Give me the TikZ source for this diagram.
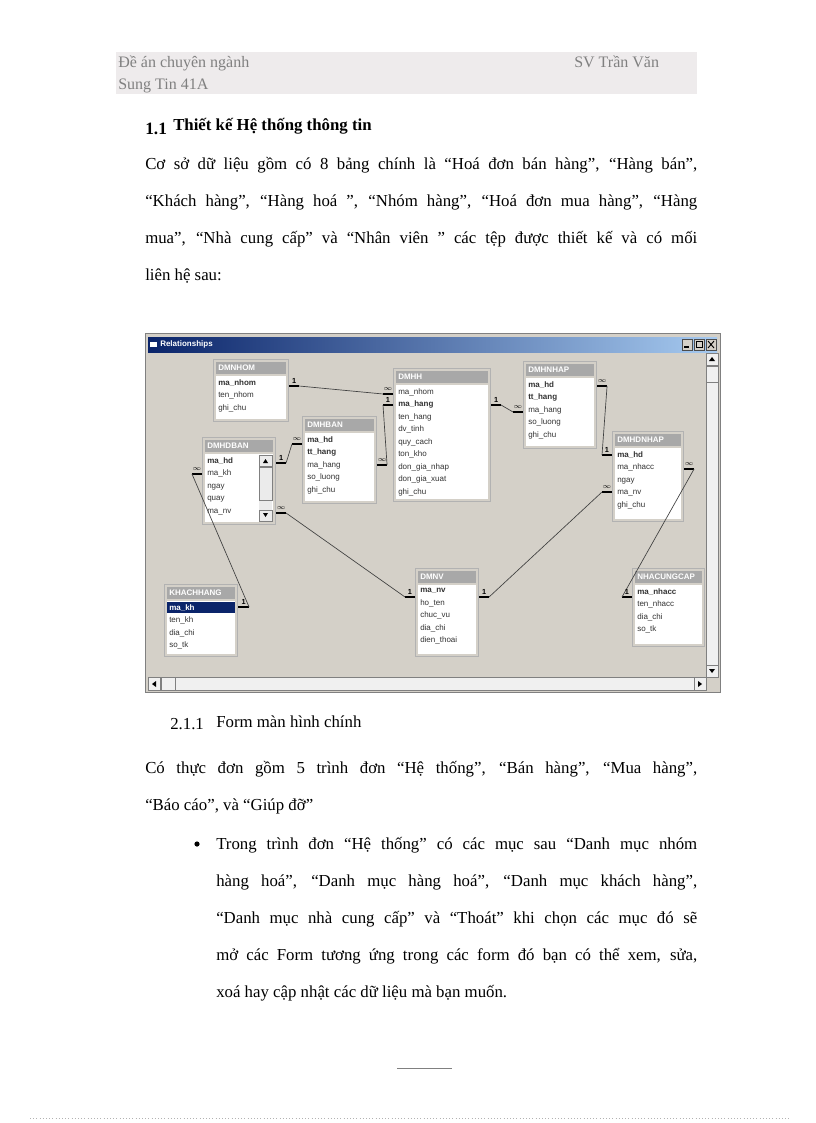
\documentclass[tikz,border=0pt]{standalone}
\usepackage{fontspec}
\setmainfont{Liberation Serif}
\newfontfamily\ui{Liberation Sans}
\usetikzlibrary{calc}
\definecolor{wingray}{HTML}{D4D0C8}
\definecolor{tgray}{HTML}{A8A8A8}
\definecolor{hdr}{HTML}{EEEBEC}
\definecolor{navy}{RGB}{10,36,106}
\definecolor{lblue}{RGB}{166,202,240}
\tikzset{
 stub/.style={line width=1.6pt},
 conn/.style={line width=0.5pt,black!75},
 card/.style={font=\ui\fontsize{5.5}{5.5}\selectfont\bfseries,inner sep=0pt},
 para/.style={anchor=north west,inner sep=0pt,align=justify,font=\fontsize{12.6}{27.75}\selectfont},
 tframe/.style={draw=gray!60,line width=0.8pt,fill=wingray,anchor=north west,inner sep=0pt},
 fld/.style={anchor=north west,inner sep=0pt,align=left,font=\ui\fontsize{6}{9.4}\selectfont,text=black!80},
}
\newcommand\dbt[7]{%
 \pgfmathsetmacro\tw{(#4-#2)*0.75}\pgfmathsetmacro\th{(#5-#3)*0.75}%
 \node[tframe,minimum width=\tw pt,minimum height=\th pt] (#1) at (#2,#3) {};
 \fill[tgray] ($(#1.north west)+(3,3)$) rectangle ($(#1.north east)+(-3,15)$);
 \node[anchor=west,inner sep=0pt,text=white,font=\ui\fontsize{6}{6}\selectfont\bfseries] at ($(#1.north west)+(5,9)$) {#6};
 \fill[white] ($(#1.north west)+(3,17)$) rectangle ($(#1.south east)+(-3,-3)$);
 \node[fld] at ($(#1.north west)+(5,20)$) {#7};
}
\newcommand\rel[6]{%
 \draw[stub] (#1) -- ++(#2,0) coordinate (ra);
 \draw[stub] (#4) -- ++(#5,0) coordinate (rb);
 \draw[conn] (ra) -- (rb);
 \path (#1) ++(#2/2,-5) node[card] {#3};
 \path (#4) ++(#5/2,-5) node[card] {#6};
}
\begin{document}
\begin{tikzpicture}[x=0.75pt,y=-0.75pt]
\useasboundingbox[fill=white] (0,0) rectangle (816,1123);
% header
\fill[hdr] (116,52) rectangle (697,94);
\node[anchor=base west,inner sep=0pt,text=gray,font=\fontsize{12}{12}\selectfont] (h1) at (118,68) {Đề án chuyên ngành};
\node[anchor=base west,inner sep=0pt,text=gray,font=\fontsize{12}{12}\selectfont] (h2) at (574,68) {SV Trần Văn};
\node[anchor=base west,inner sep=0pt,text=gray,font=\fontsize{12}{12}\selectfont] (h3) at (118,90) {Sung Tin 41A};
% heading
\node[anchor=base west,inner sep=0pt,font=\fontsize{13}{13}\selectfont\bfseries] (n11) at (145,135) {1.1};
\node[anchor=base west,inner sep=0pt,font=\fontsize{12.6}{13}\selectfont\bfseries] (t11) at (173,131) {Thiết kế Hệ thống thông tin};
\node[para,text width=414pt] (p1) at (145,157) {Cơ sở dữ liệu gồm có 8 bảng chính là “Hoá đơn bán hàng”, “Hàng bán”,\linebreak “Khách hàng”, “Hàng hoá ”, “Nhóm hàng”, “Hoá đơn mua hàng”, “Hàng\linebreak mua”, “Nhà cung cấp” và “Nhân viên ” các tệp được thiết kế và có mối\linebreak liên hệ sau:};
% window
\fill[wingray] (145,333) rectangle (720,692);
\draw[gray,line width=0.6pt] (145,333) rectangle (720,692);
\fill[left color=navy,right color=lblue] (148,337) rectangle (717,352);
\node[anchor=west,inner sep=0pt,text=white,font=\ui\fontsize{6}{6}\selectfont\bfseries] (wt) at (160,344.5) {Relationships};
\fill[white] (150,342) rectangle (157,347);
\foreach \bx in {682,694,706}{\fill[wingray] (\bx,339) rectangle ++(10,11); \draw[black!70,line width=0.3pt] (\bx,339) rectangle ++(10,11);}
\draw[line width=0.8pt] (684,347) -- (689,347);
\draw[line width=0.5pt] (696,341) rectangle (702,347);
\draw[line width=0.7pt] (708,341) -- (714,348) (714,341) -- (708,348);
\fill[black!6] (706,353) rectangle (718,677);
\fill[black!6] (148,677) rectangle (706,690);
\draw[black!50,line width=0.3pt] (706,353) rectangle (718,677) (148,677) rectangle (706,690);
\draw[black!50,line width=0.3pt] (706,353) rectangle (718,365) (706,665) rectangle (718,677) (148,677) rectangle (160,690) (694,677) rectangle (706,690) (706,366) rectangle (718,382) (161,677) rectangle (175,690);
\fill[black] (709,361) -- (715,361) -- (712,357) -- cycle;
\fill[black] (709,669) -- (715,669) -- (712,673) -- cycle;
\fill[black] (156,681) -- (156,687) -- (152,684) -- cycle;
\fill[black] (698,681) -- (698,687) -- (702,684) -- cycle;
% tables
\dbt{dmnhom}{213}{359}{288}{421}{DMNHOM}{\textbf{ma\_nhom}\\ten\_nhom\\ghi\_chu}
\dbt{dmhh}{393}{368}{490}{501}{DMHH}{ma\_nhom\\\textbf{ma\_hang}\\ten\_hang\\dv\_tinh\\quy\_cach\\ton\_kho\\don\_gia\_nhap\\don\_gia\_xuat\\ghi\_chu}
\dbt{dmhban}{302}{416}{376}{503}{DMHBAN}{\textbf{ma\_hd}\\\textbf{tt\_hang}\\ma\_hang\\so\_luong\\ghi\_chu}
\dbt{dmhdban}{202}{437}{275}{524}{DMHDBAN}{\textbf{ma\_hd}\\ma\_kh\\ngay\\quay\\ma\_nv}
\dbt{dmhnhap}{523}{361}{596}{448}{DMHNHAP}{\textbf{ma\_hd}\\\textbf{tt\_hang}\\ma\_hang\\so\_luong\\ghi\_chu}
\dbt{dmhdnhap}{612}{431}{683}{521}{DMHDNHAP}{\textbf{ma\_hd}\\ma\_nhacc\\ngay\\ma\_nv\\ghi\_chu}
\dbt{khachhang}{164}{584}{237}{656}{KHACHHANG}{\phantom{ma\_kh}\\ten\_kh\\dia\_chi\\so\_tk}
\fill[navy] ($(khachhang.north west)+(3,18)$) rectangle ($(khachhang.north east)+(-3,29)$);
\node[fld,text=white] (mkh) at ($(khachhang.north west)+(5,20)$) {\textbf{ma\_kh}};
\dbt{dmnv}{415}{568}{478}{656}{DMNV}{\textbf{ma\_nv}\\ho\_ten\\chuc\_vu\\dia\_chi\\dien\_thoai}
\dbt{ncc}{632}{568}{704}{646}{NHACUNGCAP}{\textbf{ma\_nhacc}\\ten\_nhacc\\dia\_chi\\so\_tk}
% scrollbar of DMHDBAN
\fill[black!8] (259,455) rectangle (272,521);
\draw[black!50,line width=0.3pt] (259,455) rectangle (272,466) (259,510) rectangle (272,521) (259,467) rectangle (272,500);
\fill[black] (263,463) -- (268,463) -- (265.5,459) -- cycle;
\fill[black] (263,513) -- (268,513) -- (265.5,517) -- cycle;
% relations
\rel{dmnhom.east |- 0,386}{10}{1}{dmhh.west |- 0,394}{-10}{$\infty$}
\rel{dmhh.west |- 0,405}{-10}{1}{dmhban.east |- 0,465}{10}{$\infty$}
\rel{dmhdban.east |- 0,463}{10}{1}{dmhban.west |- 0,444}{-10}{$\infty$}
\rel{dmhdban.west |- 0,474}{-10}{$\infty$}{khachhang.east |- 0,607}{11}{1}
\rel{dmhdban.east |- 0,513}{10}{$\infty$}{dmnv.west |- 0,597}{-10}{1}
\rel{dmhh.east |- 0,405}{10}{1}{dmhnhap.west |- 0,412}{-10}{$\infty$}
\rel{dmhnhap.east |- 0,386}{10}{$\infty$}{dmhdnhap.west |- 0,455}{-10}{1}
\rel{dmhdnhap.west |- 0,492}{-10}{$\infty$}{dmnv.east |- 0,597}{10}{1}
\rel{dmhdnhap.east |- 0,469}{10}{$\infty$}{ncc.west |- 0,597}{-10}{1}
% lower text
\node[anchor=base west,inner sep=0pt,font=\fontsize{12.6}{13}\selectfont] (n211) at (170,729) {2.1.1};
\node[anchor=base west,inner sep=0pt,font=\fontsize{12.6}{13}\selectfont] (t211) at (216,727) {Form màn hình chính};
\node[para,text width=414pt] (p2) at (145,761) {Có thực đơn gồm 5 trình đơn “Hệ thống”, “Bán hàng”, “Mua hàng”,\linebreak “Báo cáo”, và “Giúp đỡ”};
\fill (197,844) circle (2.6);
\node[para,text width=360.75pt] (p3) at (216,837) {Trong trình đơn “Hệ thống” có các mục sau “Danh mục nhóm\linebreak hàng hoá”, “Danh mục hàng hoá”, “Danh mục khách hàng”,\linebreak “Danh mục nhà cung cấp” và “Thoát” khi chọn các mục đó sẽ\linebreak mở các Form tương ứng trong các form đó bạn có thể xem, sửa,\linebreak xoá hay cập nhật các dữ liệu mà bạn muốn.};
\draw[gray,line width=0.5pt] (397,1068) -- (452,1068);
\draw[gray!60,dotted,line width=0.4pt] (30,1118) -- (790,1118);
\end{tikzpicture}
\end{document}
